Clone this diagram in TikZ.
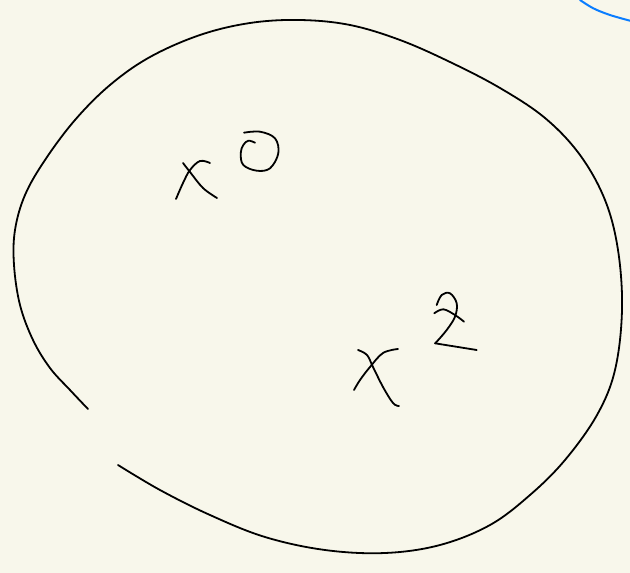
\documentclass[tikz,border=0pt]{standalone}
\definecolor{paper}{RGB}{248,247,235}
\definecolor{penblue}{RGB}{10,125,255}
\begin{document}
\begin{tikzpicture}[x=1pt,y=-1pt,
  ink/.style={line width=1.8pt,line cap=round,line join=round,black},
  blueink/.style={line width=2pt,line cap=round,penblue}]
\fill[paper] (0,0) rectangle (630,573);
\useasboundingbox (0,0) rectangle (630,573);
% big loop
\draw[ink] plot[smooth,tension=0.6] coordinates {(88,409) (70,390) (50,368) (33,340) (20,305) (14,265) (15,230) (25,195) (45,160) (75,120) (110,85) (150,57) (200,35) (250,23) (300,20) (350,25) (400,40) (450,62) (500,88) (545,118) (580,155) (605,200) (618,250) (622,310) (615,370) (597,415) (565,460) (530,495) (490,525) (440,545) (385,553) (325,550) (265,537) (210,515) (160,490) (118,465)};
% x^0
\draw[ink] plot[smooth,tension=0.6] coordinates {(176,199) (183,183) (190,170) (200,161) (210,163)};
\draw[ink] plot[smooth,tension=0.6] coordinates {(183,163) (190,172) (203,188) (217,198)};
\draw[ink] plot[smooth,tension=0.6] coordinates {(255,142.7) (248.3,140.7) (243.3,145) (240.7,153.3) (243.3,165) (256.7,170.7) (270,168.3) (278.3,153.3) (275,138.3) (260,131.7) (244,132.7)};
% x^2
\draw[ink] plot[smooth,tension=0.6] coordinates {(354,390) (360,380) (370,367) (383,353) (398,349)};
\draw[ink] plot[smooth,tension=0.6] coordinates {(358,350) (367,355) (373,367) (383,387) (393,403) (399,406)};
\draw[ink] plot[smooth,tension=0.6] coordinates {(436.7,305) (441.7,295) (450,293.3) (456.7,303.3) (455,316.7) (446.7,330) (436.7,341.7)} -- (435,343.3) -- (476.7,350);
\draw[ink] plot[smooth,tension=0.6] coordinates {(434.3,313.3) (443.3,309.3) (455,315) (464,321.7)};
% blue arc
\draw[blueink] plot[smooth,tension=0.6] coordinates {(580,0) (593.3,8.3) (610,15) (630,20.7)};
\end{tikzpicture}
\end{document}
